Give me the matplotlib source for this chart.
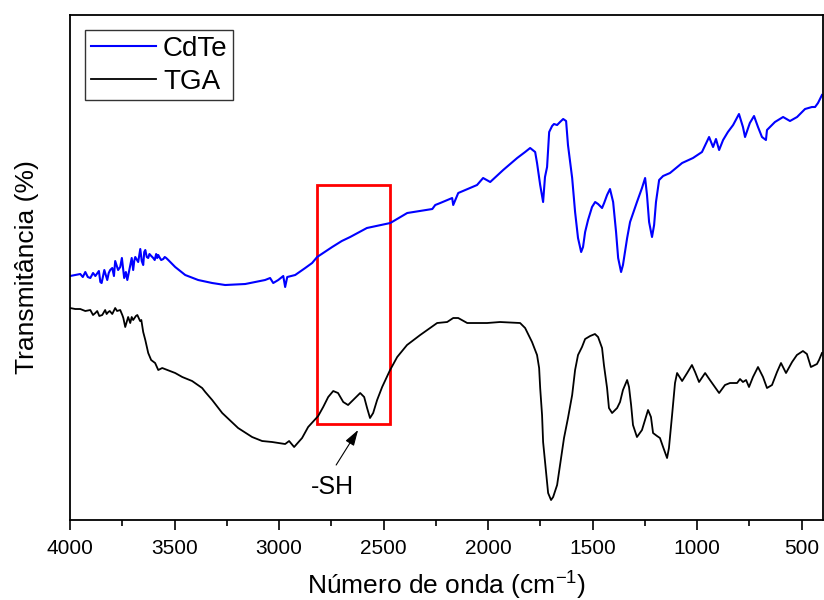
import numpy as np
import matplotlib.pyplot as plt
from matplotlib.patches import Rectangle

plt.rcParams['font.family'] = ['Liberation Sans', 'DejaVu Sans']
plt.rcParams['mathtext.fontset'] = 'custom'
plt.rcParams['mathtext.rm'] = 'Liberation Sans'

# CdTe spectrum (wavenumber in cm-1, transmittance in arbitrary units)
cdte_wn = [4000, 3975, 3951, 3939, 3927, 3915, 3903, 3890, 3879, 3862, 3855, 3849, 3836, 3822,
           3815, 3808, 3798, 3790, 3784, 3770, 3760, 3752, 3741, 3733, 3726, 3712, 3705, 3698,
           3693, 3688, 3674, 3668, 3664, 3657, 3650, 3645, 3640, 3633, 3626, 3620, 3616, 3602,
           3595, 3588, 3583, 3578, 3570, 3564, 3554, 3547, 3540, 3530,
           3497, 3449, 3387, 3320, 3258, 3162, 3067, 3043, 3028, 3004,
           2980, 2971, 2961, 2923, 2875, 2842, 2818, 2746, 2700, 2660, 2580, 2468, 2387, 2267,
           2253, 2229, 2172, 2167, 2143, 2053, 2024, 1990, 1928, 1861, 1823,
           1799, 1775, 1766, 1751, 1737, 1728, 1718, 1708, 1694, 1685, 1670, 1656, 1641, 1627,
           1618, 1598, 1584, 1570, 1555, 1546, 1536, 1522, 1503, 1488, 1474, 1455, 1445, 1431,
           1417, 1402, 1388, 1378, 1364, 1355, 1335, 1321, 1288, 1264, 1249, 1240, 1230, 1216,
           1206, 1197, 1182, 1163, 1130, 1072, 1020, 977, 943, 924, 910, 895, 876, 853, 828,
           800, 781, 771, 748, 728, 709, 690, 671, 666, 628, 589, 556, 522, 484, 451, 436, 422, 403]
cdte_t = [244, 245, 246, 243, 248, 243, 242, 247, 244, 249, 238, 237, 250, 240,
          247, 250, 252, 244, 259, 250, 253, 262, 242, 248, 240, 255, 262, 250,
          259, 263, 258, 266, 271, 259, 255, 268, 270, 263, 262, 266, 265, 262,
          260, 266, 262, 265, 262, 260, 261, 263, 262, 260,
          253, 245, 240, 237, 235, 236, 240, 242, 237, 240,
          244, 233, 243, 245, 252, 257, 263, 273, 279, 283, 292, 297, 307, 311,
          315, 317, 322, 315, 327, 335, 342, 338, 350, 362, 368,
          372, 368, 357, 335, 318, 343, 353, 388, 394, 396, 395, 398, 401, 399,
          375, 342, 308, 282, 268, 273, 288, 300, 313, 318, 316, 312, 317, 325,
          331, 318, 288, 262, 248, 255, 282, 298, 318, 332, 342, 325, 298, 283,
          295, 318, 340, 344, 347, 357, 362, 368, 383, 373, 381, 370, 380, 388, 395,
          406, 393, 383, 397, 404, 393, 383, 380, 390, 398, 403, 399, 403, 411, 413, 413, 417, 425]

# TGA spectrum
tga_wn = [4000, 3975, 3951, 3927, 3903, 3890, 3879, 3870, 3860, 3846, 3832, 3825, 3817, 3810,
          3798, 3784, 3775, 3760, 3750, 3745, 3736, 3722, 3712, 3705, 3698, 3685, 3678, 3665,
          3659, 3650, 3640, 3626, 3612, 3593, 3578, 3559, 3497, 3463, 3416, 3368,
          3353, 3320, 3272, 3196, 3129, 3081, 3033, 2971, 2952, 2928, 2890, 2861, 2813,
          2789, 2765, 2741, 2718, 2693, 2670, 2646, 2612, 2593, 2579, 2565, 2550, 2531, 2507,
          2469, 2435, 2388, 2325, 2244, 2196, 2167, 2143, 2100, 2005, 1943, 1847, 1823,
          1790, 1766, 1756, 1751, 1742, 1737, 1723, 1713, 1699, 1689, 1670, 1656, 1637, 1618,
          1598, 1584, 1570, 1551, 1536, 1512, 1489, 1474, 1455, 1446, 1431, 1422, 1407, 1383,
          1369, 1355, 1335, 1326, 1316, 1307, 1288, 1264, 1245, 1235, 1221, 1211, 1192, 1178,
          1163, 1144, 1135, 1120, 1106, 1096, 1072, 1048, 1025, 1010, 991, 962, 939, 915, 895,
          867, 843, 809, 795, 781, 766, 752, 733, 709, 685, 666, 642, 618, 599, 575, 546, 523,
          494, 475, 456, 427, 417, 403]
tga_t = [212, 211, 211, 209, 210, 205, 207, 209, 204, 205, 210, 206, 208, 209,
         206, 212, 209, 210, 205, 202, 193, 203, 197, 203, 200, 204, 205, 199,
         200, 188, 180, 167, 160, 157, 150, 152, 147, 143, 139, 132,
         128, 120, 107, 92, 83, 79, 78, 76, 79, 73, 82, 93, 104,
         113, 123, 129, 127, 118, 115, 120, 127, 123, 112, 102, 107, 120, 133,
         150, 163, 175, 185, 197, 198, 202, 202, 197, 197, 198, 197, 192,
         178, 165, 152, 132, 105, 78, 48, 27, 20, 23, 35, 55, 82, 102,
         125, 150, 165, 173, 181, 184, 186, 183, 172, 155, 132, 112, 107, 112,
         118, 130, 140, 133, 115, 95, 83, 90, 103, 110, 103, 87, 84, 82,
         73, 62, 72, 105, 137, 147, 139, 147, 155, 148, 138, 147, 140, 133, 127,
         135, 137, 137, 141, 138, 140, 133, 143, 153, 143, 132, 135, 148, 157, 147, 158, 165,
         169, 166, 153, 156, 160, 167]

# highlighted -SH region
box_wn = (2819, 2469)
box_t = (96, 335)

fig = plt.figure(figsize=(8.24, 6.0), dpi=100)
ax = fig.add_axes([0.085, 0.1333, 0.9138, 0.8417])

ax.plot(cdte_wn, cdte_t, color='#0000ff', lw=1.5, label='CdTe', solid_joinstyle='round')
ax.plot(tga_wn, tga_t, color='black', lw=1.3, label='TGA', solid_joinstyle='round')

ax.add_patch(Rectangle((box_wn[1], box_t[0]), box_wn[0] - box_wn[1], box_t[1] - box_t[0],
                       fill=False, edgecolor='#ff0000', lw=2))
ax.text(2746, 33, '-SH', fontsize=18, ha='center', va='center')
ax.annotate('', xy=(2622, 90), xytext=(2727, 55),
            arrowprops=dict(arrowstyle='-|>,head_length=0.8,head_width=0.25', color='black',
                            lw=0.8, mutation_scale=12, shrinkA=0, shrinkB=0))

ax.set_xlim(4000, 398)
ax.set_ylim(0, 505)
ax.set_xticks([4000, 3500, 3000, 2500, 2000, 1500, 1000, 500])
ax.set_xticks(np.arange(3750, 400, -500), minor=True)
ax.tick_params(axis='x', which='major', direction='out', length=7, width=1.2,
               labelsize=15, pad=7)
ax.tick_params(axis='x', which='minor', direction='out', length=4, width=1.2)
ax.set_yticks([])
for s in ax.spines.values():
    s.set_linewidth(1.3)

ax.set_xlabel('Número de onda (cm$^{-1}$)', fontsize=19, labelpad=7)
ax.set_ylabel('Transmitância (%)', fontsize=19, labelpad=22)

leg = ax.legend(loc='upper left', bbox_to_anchor=(0.02, 0.97), fontsize=20,
                frameon=True, fancybox=False, edgecolor='black', handlelength=2.35,
                handletextpad=0.25, borderpad=0.2, labelspacing=0.25, borderaxespad=0)
leg.get_frame().set_linewidth(1.0)

plt.savefig('out.png', dpi=100)
